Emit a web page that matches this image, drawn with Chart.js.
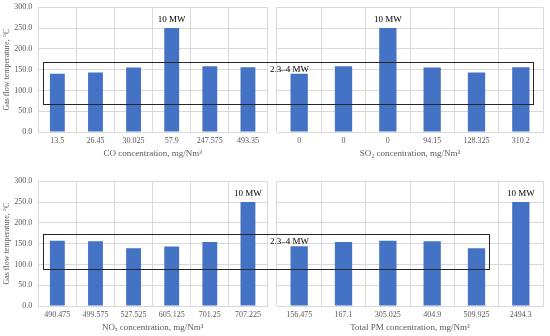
<!DOCTYPE html>
<html lang="en">
<head>
  <meta charset="UTF-8">
  <title>Gas flow temperature vs concentration</title>
  <script src="https://cdn.jsdelivr.net/npm/chart.js@4"></script>
  <style>
    body { margin: 0; width: 550px; height: 336px; background: #fff; position: relative; overflow: hidden; }
    canvas { position: absolute; }
    #overlay { left: 0; top: 0; pointer-events: none; }
  </style>
</head>
<body>
  <canvas id="co" width="270" height="162" style="left:0;top:0"></canvas>
  <canvas id="so2" width="280" height="162" style="left:270px;top:0"></canvas>
  <canvas id="nox" width="270" height="162" style="left:0;top:174px"></canvas>
  <canvas id="pm" width="280" height="162" style="left:270px;top:174px"></canvas>
  <canvas id="overlay" width="550" height="336"></canvas>

  <script>
    // values (temperature in °C)
    const coLabels = ['13.5', '26.45', '30.025', '57.9', '247.575', '493.35'];
    const coTemp = [140, 143, 155, 250, 158, 156];
    const coNotes = ['', '', '', '10 MW', '', ''];

    const so2Labels = ['0', '0', '0', '94.15', '128.325', '310.2'];
    const so2Temp = [140, 158, 250, 155, 143, 156];
    const so2Notes = ['', '', '10 MW', '', '', ''];

    const noxLabels = ['490.475', '499.575', '527.525', '605.125', '701.25', '707.225'];
    const noxTemp = [157, 156, 139, 143, 154, 250];
    const noxNotes = ['', '', '', '', '', '10 MW'];

    const pmLabels = ['156.475', '167.1', '305.025', '404.9', '509.925', '2494.3'];
    const pmTemp = [144, 154, 157, 156, 139, 250];
    const pmNotes = ['', '', '', '', '', '10 MW'];

    // 2.3–4 MW group frames: temperature range, category extent, label height
    const topBand = [66.6, 169];
    const topBandIdx = [-0.38, 5.27];
    const bottomBand = [88.8, 173.5];
    const bottomBandIdx = [-0.38, 4.29];
    const bandLabel = '2.3–4 MW';
    const bandLabelTemp = [149, 156];

    const serif = '"Liberation Serif", "DejaVu Serif", serif';
    const grey = '#595959';
    const gridCol = '#d9d9d9';

    const notesPlugin = {
      id: 'notes',
      afterDatasetsDraw(chart, args, opts) {
        const meta = chart.getDatasetMeta(0);
        const ctx = chart.ctx;
        ctx.save();
        ctx.font = '9px ' + serif;
        ctx.fillStyle = '#000';
        ctx.textAlign = 'center';
        ctx.textBaseline = 'bottom';
        opts.notes.forEach((t, i) => {
          if (t) ctx.fillText(t, meta.data[i].x, meta.data[i].y - 4);
        });
        ctx.restore();
      }
    };

    function makeChart(id, labels, values, notes, xTitle, showY) {
      return new Chart(document.getElementById(id), {
        type: 'bar',
        data: {
          labels,
          datasets: [{ data: values, backgroundColor: '#4472C4', barPercentage: 0.39, categoryPercentage: 1 }]
        },
        options: {
          responsive: false,
          animation: false,
          events: [],
          layout: { padding: { top: 7.3, right: showY ? 3 : 7, left: 0, bottom: 0 } },
          plugins: { legend: { display: false }, tooltip: { enabled: false }, notes: { notes } },
          scales: {
            x: {
              grid: { color: gridCol, drawTicks: false },
              border: { color: gridCol },
              ticks: { font: { family: serif, size: 8 }, color: grey, padding: 4, maxRotation: 0, autoSkip: false },
              title: { display: true, text: xTitle, font: { family: serif, size: 9 }, color: grey, padding: { top: 0, bottom: 3 } },
              afterFit: s => { s.height = 30; }
            },
            y: {
              min: 0, max: 300,
              grid: { color: gridCol, drawTicks: false },
              border: { display: false },
              ticks: { stepSize: 50, display: showY, callback: v => v.toFixed(1), font: { family: serif, size: 8 }, color: grey, padding: 6 },
              title: { display: showY, text: 'Gas flow temperature, °C', font: { family: serif, size: 8 }, color: grey, padding: { top: 2, bottom: 0 } },
              // same plot area height on both sides, whatever the tick labels need
              afterFit: s => { s.width = showY ? 38.3 : 7; s.paddingTop = 0; s.paddingBottom = 0; }
            }
          }
        },
        plugins: [notesPlugin]
      });
    }

    const coChart = makeChart('co', coLabels, coTemp, coNotes, 'CO concentration, mg/Nm³', true);
    const so2Chart = makeChart('so2', so2Labels, so2Temp, so2Notes, 'SO₂ concentration, mg/Nm³', false);
    const noxChart = makeChart('nox', noxLabels, noxTemp, noxNotes, 'NOₓ concentration, mg/Nm³', true);
    const pmChart = makeChart('pm', pmLabels, pmTemp, pmNotes, 'Total PM concentration, mg/Nm³', false);

    const octx = document.getElementById('overlay').getContext('2d');

    function xAt(chart, idx) {
      const s = chart.scales.x;
      const w = s.width / s.ticks.length;
      return chart.canvas.offsetLeft + s.getPixelForValue(0) + idx * w;
    }
    function yAt(chart, v) {
      return chart.canvas.offsetTop + chart.scales.y.getPixelForValue(v);
    }

    function drawBand(left, right, band, idx, labelTemp) {
      const x1 = Math.round(xAt(left, idx[0])) + 0.5;
      const x2 = Math.round(xAt(right, idx[1])) + 0.5;
      const y1 = Math.round(yAt(left, band[1])) + 0.5;
      const y2 = Math.round(yAt(left, band[0])) + 0.5;
      octx.strokeStyle = '#262626';
      octx.lineWidth = 1;
      octx.strokeRect(x1, y1, x2 - x1, y2 - y1);
      octx.font = '9px ' + serif;
      octx.fillStyle = '#000';
      octx.textBaseline = 'middle';
      octx.textAlign = 'left';
      octx.fillText(bandLabel, right.canvas.offsetLeft + right.chartArea.left - 7, yAt(left, labelTemp));
    }

    drawBand(coChart, so2Chart, topBand, topBandIdx, bandLabelTemp[0]);
    drawBand(noxChart, pmChart, bottomBand, bottomBandIdx, bandLabelTemp[1]);
  </script>
</body>
</html>
